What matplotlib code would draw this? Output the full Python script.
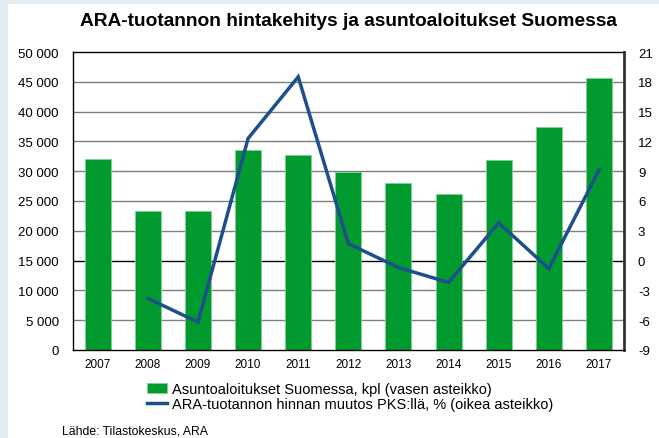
import matplotlib
matplotlib.use("Agg")
import matplotlib.pyplot as plt
from matplotlib.patches import Rectangle
import numpy as np

years = ["2007", "2008", "2009", "2010", "2011", "2012", "2013", "2014", "2015", "2016", "2017"]
starts = [32000, 23400, 23400, 33500, 32800, 29800, 28000, 26100, 31800, 37400, 45700]
price_years = ["2008", "2009", "2010", "2011", "2012", "2013", "2014", "2015", "2016", "2017"]
price_change = [-3.8, -6.2, 12.3, 18.5, 1.7, -0.7, -2.2, 3.8, -0.8, 9.1]

left_ticks = [0, 5000, 10000, 15000, 20000, 25000, 30000, 35000, 40000, 45000, 50000]
left_labels = ["0", "5 000", "10 000", "15 000", "20 000", "25 000", "30 000", "35 000", "40 000", "45 000", "50 000"]
right_ticks = [-9, -6, -3, 0, 3, 6, 9, 12, 15, 18, 21]

title = "ARA-tuotannon hintakehitys ja asuntoaloitukset Suomessa"
bar_label = "Asuntoaloitukset Suomessa, kpl (vasen asteikko)"
line_label = "ARA-tuotannon hinnan muutos PKS:llä, % (oikea asteikko)"
source = "Lähde: Tilastokeskus, ARA"

GREEN = "#009a2e"
BLUE = "#1d4f8c"
BG = "#e4ecf4"

plt.rcParams['font.family'] = ['Liberation Sans', 'DejaVu Sans']

fig = plt.figure(figsize=(6.59, 4.39), dpi=100)
fig.patch.set_facecolor("white")
# light blue frame strips (top and left)
fig.patches.append(Rectangle((0, 1 - 5 / 439), 1, 5 / 439, transform=fig.transFigure,
                             facecolor=BG, edgecolor="none", zorder=0))
fig.patches.append(Rectangle((0, 0), 8 / 659, 1, transform=fig.transFigure,
                             facecolor=BG, edgecolor="none", zorder=0))

ax = fig.add_axes([72.7 / 659, 1 - 351 / 439, (624 - 72.7) / 659, (351 - 53) / 439])
x = np.arange(len(years))
ax.bar(x, starts, width=0.52, color=GREEN, edgecolor="#7fd08f", linewidth=0.6, zorder=2,
       label=bar_label)
ax.set_xlim(-0.5, len(years) - 0.5)
ax.set_ylim(0, 50000)
ax.set_yticks(left_ticks)
ax.set_yticklabels(left_labels)
ax.set_xticks(x)
ax.set_xticklabels(years, fontsize=8.5)
for t in left_ticks:
    if t in (0, 50000):
        continue
    ax.axhline(t, color="#000000" if t == 15000 else "#7f7f7f", linewidth=1.0, zorder=1)
ax.tick_params(axis="y", length=0, labelsize=9.5, pad=10)
ax.tick_params(axis="x", length=0, pad=6)
for s in ax.spines.values():
    s.set_color("#000000")
    s.set_linewidth(1.0)
ax.spines["right"].set_color("#333333")
ax.spines["right"].set_linewidth(2.0)

ax2 = ax.twinx()
px = [years.index(y) for y in price_years]
ax2.plot(px, price_change, color=BLUE, linewidth=2.5, zorder=3, label=line_label,
         solid_joinstyle="miter")
ax2.set_ylim(-9, 21)
ax2.set_yticks(right_ticks)
ax2.set_yticklabels([str(t) for t in right_ticks])
ax2.tick_params(axis="y", length=0, labelsize=9.5, pad=10)
for s in ax2.spines.values():
    s.set_visible(False)

fig.text(348 / 659, 1 - 22 / 439, title, ha="center", va="center", fontsize=13.8, fontweight="bold")

h1, l1 = ax.get_legend_handles_labels()
h2, l2 = ax2.get_legend_handles_labels()
leg = fig.legend(h1 + h2, l1 + l2, loc="upper left", bbox_to_anchor=(144 / 659, 1 - 380 / 439),
                 frameon=False, handlelength=1.35, handletextpad=0.35,
                 labelspacing=0.05, borderaxespad=0, borderpad=0.2,
                 prop={'size': 10.5})

fig.text(62 / 659, 1 - 432 / 439, source, ha="left", va="center", fontsize=8.8)

fig.savefig("out.png", dpi=100)
